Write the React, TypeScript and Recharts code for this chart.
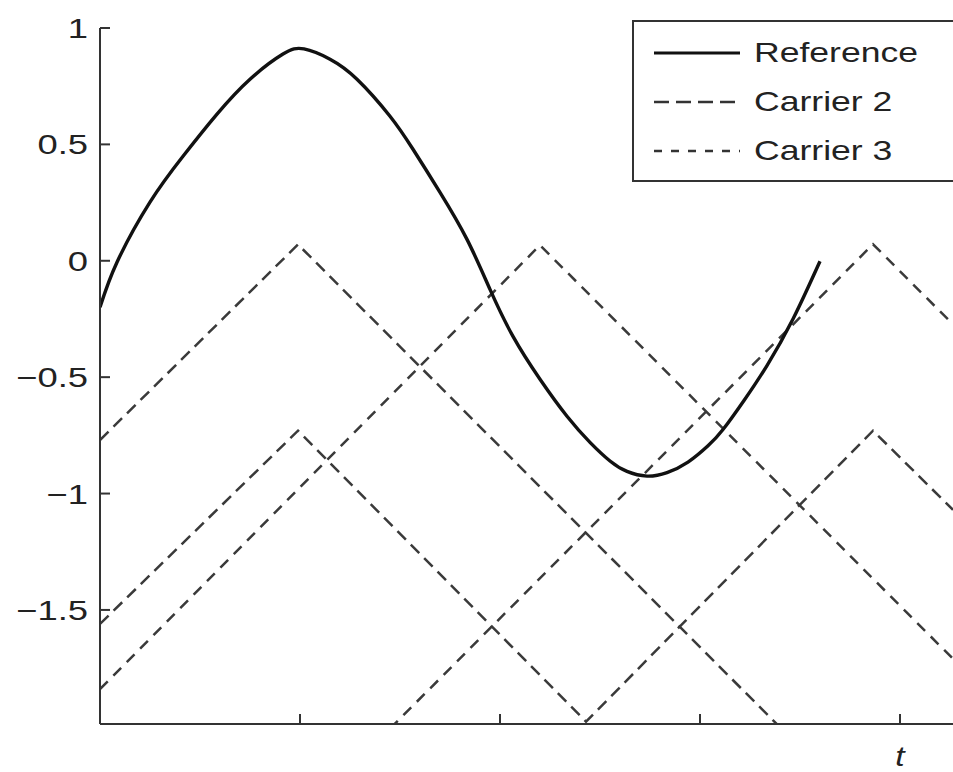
import { LineChart, Line, XAxis, YAxis } from 'recharts';

// reference waveform
const refT = [0, 0.085, 0.25, 0.415, 0.585, 0.75, 0.915, 1.02, 1.15, 1.285, 1.45, 1.565, 1.7, 1.835, 1.95, 2.065, 2.2, 2.335, 2.45, 2.55, 2.635, 2.735, 2.835, 2.94, 3.04, 3.115, 3.22, 3.335, 3.465, 3.6];
const refV = [-0.2, -0.006, 0.252, 0.449, 0.63, 0.78, 0.888, 0.91, 0.866, 0.78, 0.621, 0.479, 0.294, 0.092, -0.123, -0.325, -0.509, -0.668, -0.78, -0.86, -0.905, -0.925, -0.91, -0.865, -0.795, -0.725, -0.6, -0.45, -0.25, -0.002];

// carrier 2: triangle corners (upper and lower)
const c2UpperT = [0, 0.99, 3.5];
const c2UpperV = [-0.77, 0.07, -2.09];
const c2LowerT = [0, 0.99, 2.43, 3.865, 4.265];
const c2LowerV = [-1.56, -0.73, -1.98, -0.73, -1.07];

// carrier 3
const c3FirstT = [0, 2.2, 4.265];
const c3FirstV = [-1.84, 0.067, -1.71];
const c3SecondT = [1.45, 3.865, 4.265];
const c3SecondV = [-2.01, 0.071, -0.273];

const yTicks = [1, 0.5, 0, -0.5, -1, -1.5];
const yTickLabels = ['1', '0.5', '0', '\u22120.5', '\u22121', '\u22121.5'];
const xTicks = [1, 2, 3, 4];
const xTickLabels = ['', '', '', 't'];

const legendLabels = ['Reference', 'Carrier 2', 'Carrier 3'];
const legendDash = ['', '15 7', '8 9'];

const toPoints = (t: number[], v: number[]) => t.map((x, i) => ({ x, y: v[i] }));

const axisColor = '#333';
const font = '"Liberation Sans", Arial, sans-serif';

const YTick = (props: any) => {
  const { x, y, payload } = props;
  const label = yTickLabels[yTicks.indexOf(payload.value)];
  return (
    <g>
      <line x1={x} y1={y} x2={x + 10} y2={y} stroke={axisColor} strokeWidth={2} />
      <text
        transform={`translate(${x - 12},${y + 10}) scale(1.3,1)`}
        textAnchor="end"
        fontSize={28}
        fontFamily={font}
        fill="#222"
      >
        {label}
      </text>
    </g>
  );
};

const XTick = (props: any) => {
  const { x, y, payload } = props;
  const label = xTickLabels[xTicks.indexOf(payload.value)];
  return (
    <g>
      <line x1={x} y1={y} x2={x} y2={y - 10} stroke={axisColor} strokeWidth={2} />
      {label && (
        <text
          transform={`translate(${x},${y + 42}) scale(1.2,1)`}
          textAnchor="middle"
          fontSize={28}
          fontStyle="italic"
          fontFamily={font}
          fill="#222"
        >
          {label}
        </text>
      )}
    </g>
  );
};

const LegendBox = () => (
  <div
    style={{
      position: 'absolute',
      left: 632,
      top: 20,
      border: '2px solid #333',
      width: 340,
      height: 162,
      boxSizing: 'border-box',
      background: '#fff',
      fontFamily: font,
    }}
  >
    {legendLabels.map((label, i) => (
      <div key={label} style={{ position: 'absolute', left: 18, top: 13 + i * 49, height: 36, display: 'flex', alignItems: 'center' }}>
        <svg width={90} height={20}>
          <line
            x1={2}
            y1={10}
            x2={88}
            y2={10}
            stroke={i === 0 ? '#111' : '#333'}
            strokeWidth={i === 0 ? 3 : 2.5}
            strokeDasharray={legendDash[i] || undefined}
          />
        </svg>
        <span
          style={{
            fontSize: 28,
            color: '#222',
            display: 'inline-block',
            marginLeft: 12,
            transform: 'scaleX(1.27)',
            transformOrigin: 'left center',
          }}
        >
          {label}
        </span>
      </div>
    ))}
  </div>
);

export default function App() {
  return (
    <div style={{ position: 'absolute', left: 0, top: 0, width: 953, height: 772, background: '#fff', overflow: 'hidden' }}>
      <LineChart width={953} height={772} margin={{ top: 28, right: 0, bottom: 0, left: 0 }}>
        <XAxis
          type="number"
          dataKey="x"
          domain={[0, 4.265]}
          ticks={xTicks}
          allowDataOverflow
          height={48}
          tickSize={0}
          tickMargin={0}
          tick={<XTick />}
          axisLine={{ stroke: axisColor, strokeWidth: 2 }}
        />
        <YAxis
          type="number"
          dataKey="y"
          domain={[-1.99, 1]}
          ticks={yTicks}
          allowDataOverflow
          width={100}
          tickSize={0}
          tickMargin={0}
          tick={<YTick />}
          axisLine={{ stroke: axisColor, strokeWidth: 2 }}
        />
        <Line data={toPoints(c2UpperT, c2UpperV)} dataKey="y" type="linear" stroke="#3a3a3a" strokeWidth={2.5} strokeDasharray="12 7" dot={false} isAnimationActive={false} />
        <Line data={toPoints(c2LowerT, c2LowerV)} dataKey="y" type="linear" stroke="#3a3a3a" strokeWidth={2.5} strokeDasharray="12 7" dot={false} isAnimationActive={false} />
        <Line data={toPoints(c3FirstT, c3FirstV)} dataKey="y" type="linear" stroke="#3a3a3a" strokeWidth={2.5} strokeDasharray="11 8" dot={false} isAnimationActive={false} />
        <Line data={toPoints(c3SecondT, c3SecondV)} dataKey="y" type="linear" stroke="#3a3a3a" strokeWidth={2.5} strokeDasharray="11 8" dot={false} isAnimationActive={false} />
        <Line data={toPoints(refT, refV)} dataKey="y" type="natural" stroke="#111" strokeWidth={3.4} dot={false} isAnimationActive={false} />
      </LineChart>
      <LegendBox />
    </div>
  );
}
